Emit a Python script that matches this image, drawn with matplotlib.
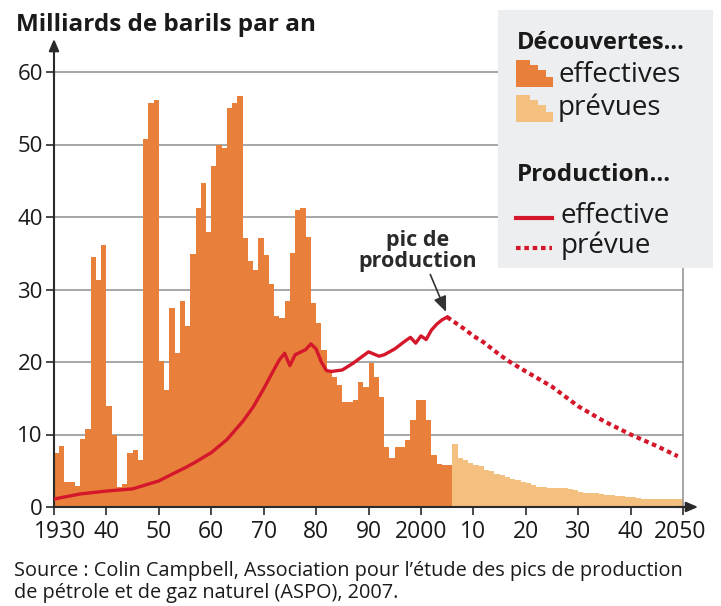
import matplotlib.pyplot as plt
import numpy as np
import matplotlib.transforms as mtransforms
from matplotlib.patches import Polygon

plt.rcParams['font.family'] = ['Open Sans', 'DejaVu Sans']

# Découvertes effectives (1930-2005), milliards de barils par an
disc_years = list(range(1930, 2006))
disc_actual = [7.4, 8.4, 3.4, 3.4, 2.9, 9.4, 10.8, 34.5, 31.3, 36.2,
               13.9, 10.0, 2.7, 3.2, 7.4, 7.9, 6.5, 50.7, 55.7, 56.2,
               20.1, 16.2, 27.4, 21.2, 28.4, 24.9, 34.9, 41.2, 44.7, 38.0,
               47.0, 50.0, 49.5, 55.0, 55.7, 56.7, 37.1, 33.9, 32.7, 37.1,
               34.8, 30.7, 26.3, 26.1, 28.4, 35.0, 41.0, 41.2, 37.3, 28.1,
               25.4, 21.7, 18.7, 18.0, 16.8, 14.5, 14.5, 14.8, 17.3, 16.6,
               19.8, 18.0, 15.2, 8.3, 6.7, 8.3, 8.3, 9.2, 12.0, 14.8,
               14.8, 12.0, 7.2, 6.0, 5.8, 5.8]

# Découvertes prévues (2006-2049)
pred_years = list(range(2006, 2050))
disc_pred = [8.7, 6.7, 6.5, 6.1, 5.8, 5.6, 5.1, 4.9, 4.6, 4.4,
             4.2, 3.9, 3.7, 3.5, 3.3, 3.0, 2.8, 2.7, 2.6, 2.6,
             2.6, 2.6, 2.5, 2.4, 2.1, 2.0, 1.9, 1.9, 1.8, 1.7,
             1.6, 1.5, 1.5, 1.4, 1.4, 1.2, 1.15, 1.15, 1.15, 1.15,
             1.15, 1.15, 1.15, 1.15]

# Production effective
prod_years = [1930, 1935, 1940, 1945, 1950, 1953, 1955, 1957, 1960, 1963,
              1966, 1968, 1970, 1972, 1973, 1974, 1975, 1976, 1978, 1979,
              1980, 1981, 1982, 1983, 1985, 1987, 1990, 1992, 1993, 1995,
              1997, 1998, 1999, 2000, 2001, 2002, 2003, 2004, 2005]
prod_actual = [1.1, 1.8, 2.2, 2.5, 3.6, 4.7, 5.4, 6.2, 7.5, 9.3,
               11.8, 13.8, 16.3, 19.0, 20.3, 21.2, 19.5, 21.0, 21.7, 22.5,
               21.8, 20.0, 18.8, 18.7, 18.9, 19.8, 21.4, 20.8, 21.0, 21.8,
               22.9, 23.4, 22.6, 23.6, 23.1, 24.4, 25.2, 25.8, 26.2]

# Production prévue
prodp_years = [2005, 2008, 2010, 2012, 2015, 2017, 2020, 2025, 2030, 2035,
               2040, 2045, 2049]
prod_pred = [26.2, 24.7, 23.6, 22.7, 21.0, 20.0, 18.7, 16.6, 13.9, 11.8,
             10.0, 8.4, 7.0]

x_ticks = [1930, 1940, 1950, 1960, 1970, 1980, 1990, 2000, 2010, 2020, 2030, 2040, 2050]
x_labels = ['1930', '40', '50', '60', '70', '80', '90', '2000', '10', '20', '30', '40', '2050']
y_ticks = [0, 10, 20, 30, 40, 50, 60]

c_actual = '#e87f3a'
c_pred = '#f4c07f'
c_red = '#d4172b'
c_axis = '#2a2a2a'
c_grid = '#8e8e8e'

W, H = 721, 606
fig = plt.figure(figsize=(W / 100, H / 100), dpi=100)
ax = fig.add_axes([54 / W, (H - 507) / H, (683 - 54) / W, (507 - 72) / H])
ax.set_xlim(1930, 2050)
ax.set_ylim(0, 60)

# grid lines
for v in y_ticks[1:]:
    ax.axhline(v, color=c_grid, lw=1.1, zorder=0, clip_on=False)

# bars
ax.stairs(disc_actual, disc_years + [disc_years[-1] + 1], fill=True,
          color=c_actual, lw=0, zorder=1)
ax.stairs(disc_pred, pred_years + [pred_years[-1] + 1], fill=True,
          color=c_pred, lw=0, zorder=1)

# production
ax.plot(prod_years, prod_actual, color=c_red, lw=2.4, zorder=3,
        solid_joinstyle='round')
ax.plot(prodp_years, prod_pred, color=c_red, lw=3, zorder=3,
        linestyle=(0, (1.1, 0.9)))

# spines and ticks
ax.spines['top'].set_visible(False)
ax.spines['right'].set_color(c_grid)
ax.spines['right'].set_linewidth(1.1)
ax.spines['left'].set_color(c_axis)
ax.spines['bottom'].set_color(c_axis)
ax.spines['left'].set_linewidth(1.5)
ax.spines['bottom'].set_linewidth(1.5)
ax.set_xticks(x_ticks)
ax.set_xticklabels(x_labels)
ax.set_yticks(y_ticks)
ax.tick_params(axis='both', length=6, width=1.2, color=c_axis, labelcolor='#1a1a1a')
ax.tick_params(axis='x', labelsize=16.5, pad=3)
ax.tick_params(axis='y', labelsize=16, pad=2)

# first and last year labels sit a little inward, as in the original
xlabs = ax.get_xticklabels()
xlabs[0].set_transform(xlabs[0].get_transform() +
                       mtransforms.ScaledTranslation(6 / 100, 0, fig.dpi_scale_trans))
xlabs[-1].set_transform(xlabs[-1].get_transform() +
                        mtransforms.ScaledTranslation(-3 / 100, 0, fig.dpi_scale_trans))

# axis arrows
arrow_kw = dict(arrowstyle='-|>,head_length=0.7,head_width=0.3', color=c_axis, lw=1.5,
                shrinkA=0, shrinkB=0)
ax.annotate('', xy=(0, 1.076), xytext=(0, 0.99), xycoords='axes fraction',
            arrowprops=arrow_kw)
ax.annotate('', xy=(1.024, 0), xytext=(0.99, 0), xycoords='axes fraction',
            arrowprops=arrow_kw)

# peak annotation
ax.annotate('pic de\nproduction', xy=(2004.8, 26.9), xytext=(1999.3, 35.3),
            ha='center', va='center', fontsize=15.5, fontweight='bold',
            color='#2a2a2a', linespacing=0.95,
            arrowprops=dict(arrowstyle='-|>,head_length=0.6,head_width=0.25',
                            color='#333333', lw=1.2, shrinkA=0, shrinkB=0,
                            relpos=(0.6, 0.0)))

# title and source
fig.text(16 / W, 1 - 31 / H, 'Milliards de barils par an', fontsize=17.5,
         fontweight='bold', color='#1a1a1a', va='baseline')
fig.text(14 / W, 1 - 576 / H,
         'Source : Colin Campbell, Association pour l\u2019étude des pics de production',
         fontsize=14.3, color='#1a1a1a', va='baseline')
fig.text(14 / W, 1 - 598 / H, 'de pétrole et de gaz naturel (ASPO), 2007.',
         fontsize=14.3, color='#1a1a1a', va='baseline')

# legend box (pixel coordinates inside the box)
lx0, ly0, lw_, lh_ = 498, 10, 215, 258
lax = fig.add_axes([lx0 / W, 1 - (ly0 + lh_) / H, lw_ / W, lh_ / H])
lax.set_xlim(0, lw_)
lax.set_ylim(lh_, 0)
lax.set_facecolor('#eceef0')
for s in lax.spines.values():
    s.set_visible(False)
lax.set_xticks([])
lax.set_yticks([])


def stair_icon(x, y, color):
    pts = [(x, y + 27), (x + 37, y + 27), (x + 37, y + 17), (x + 30, y + 17),
           (x + 30, y + 10), (x + 22, y + 10), (x + 22, y + 5), (x + 14, y + 5),
           (x + 14, y), (x, y)]
    lax.add_patch(Polygon(pts, closed=True, color=color, lw=0))


lax.text(19, 33, 'Découvertes...', fontsize=17, fontweight='bold', va='center',
         color='#1a1a1a')
stair_icon(18, 50, c_actual)
lax.text(60, 65, 'effectives', fontsize=20, va='center', color='#1a1a1a')
stair_icon(18, 85, c_pred)
lax.text(60, 98, 'prévues', fontsize=20, va='center', color='#1a1a1a')
lax.text(19, 165, 'Production...', fontsize=17.5, fontweight='bold', va='center',
         color='#1a1a1a')
lax.plot([18, 54], [208, 208], color=c_red, lw=3)
lax.text(63, 206, 'effective', fontsize=20, va='center', color='#1a1a1a')
lax.plot([18, 54], [238, 238], color=c_red, lw=3, linestyle=(0, (1.1, 0.9)))
lax.text(63, 236, 'prévue', fontsize=20, va='center', color='#1a1a1a')

fig.savefig('out.png', dpi=100, facecolor='white')
